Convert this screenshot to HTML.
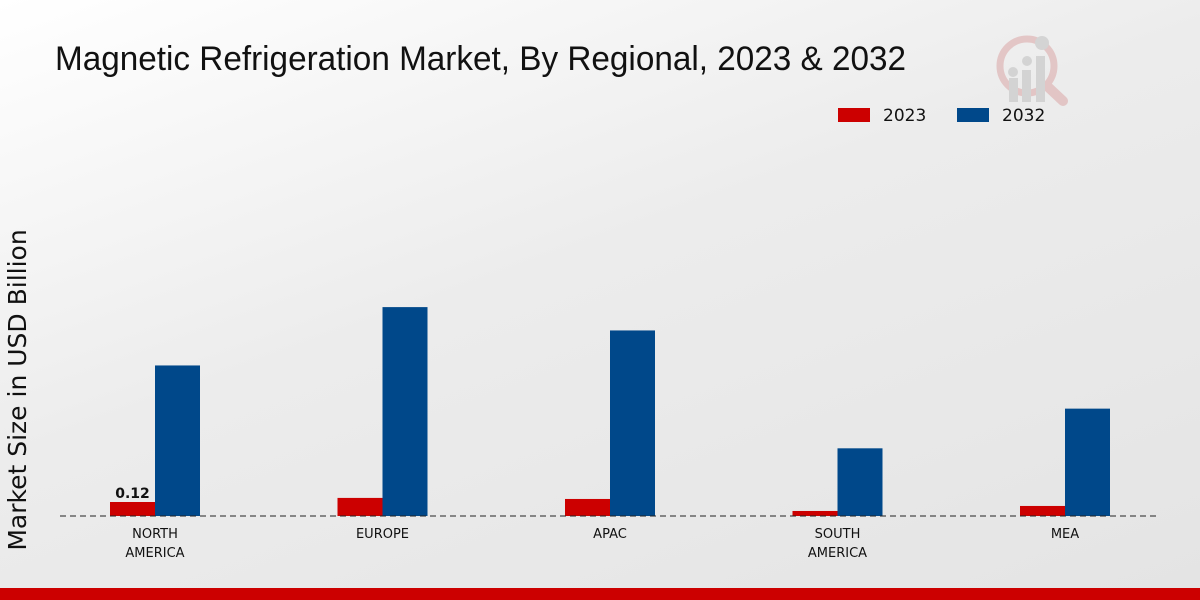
<!DOCTYPE html>
<html><head><meta charset="utf-8"><style>
html,body{margin:0;padding:0;width:1200px;height:600px;overflow:hidden}
body{background:linear-gradient(160deg,#ffffff 0%,#ececec 45%,#e4e4e4 100%);font-family:"DejaVu Sans",sans-serif}
</style></head><body>
<svg id="chart" width="1200" height="600" xmlns="http://www.w3.org/2000/svg" font-family="DejaVu Sans, sans-serif">
<text x="55" y="70" font-size="34" font-family="Liberation Sans, sans-serif" textLength="851" lengthAdjust="spacingAndGlyphs" fill="#111">Magnetic Refrigeration Market, By Regional, 2023 &amp; 2032</text>
<g opacity="0.5">
<circle cx="1027" cy="66" r="27" fill="none" stroke="#d9a0a0" stroke-width="7"/>
<line x1="1047" y1="86" x2="1063" y2="101" stroke="#d9a0a0" stroke-width="10" stroke-linecap="round"/>
<rect x="1009" y="78" width="9" height="24" fill="#bbb"/><rect x="1022" y="70" width="9" height="32" fill="#bbb"/><rect x="1036" y="56" width="9" height="46" fill="#bbb"/>
<circle cx="1013" cy="72" r="5" fill="#bbb"/><circle cx="1027" cy="61" r="5" fill="#bbb"/><circle cx="1042" cy="43" r="7" fill="#bbb"/>
</g>
<g>
<rect x="838" y="108" width="32" height="14" fill="#cc0000"/>
<text x="883" y="121" font-size="17" fill="#111">2023</text>
<rect x="957" y="108" width="32" height="14" fill="#00488a"/>
<text x="1002" y="121" font-size="17" fill="#111">2032</text>
</g>
<text transform="translate(26,390) rotate(-90)" text-anchor="middle" font-size="25" fill="#111">Market Size in USD Billion</text>
<g id="bars"></g>
<line x1="60" y1="516" x2="1160" y2="516" stroke="#222" stroke-width="1" stroke-dasharray="6,4"/>
<g id="labels"></g>
<rect x="0" y="588" width="1200" height="12" fill="#cc0000"/>
</svg>
<script>
const categories=[["NORTH","AMERICA"],["EUROPE"],["APAC"],["SOUTH","AMERICA"],["MEA"]];
const values2023=[0.12,0.155,0.146,0.043,0.086];
const values2032=[1.29,1.79,1.59,0.58,0.92];
const valueLabels=["0.12","","","",""];
const NS="http://www.w3.org/2000/svg";
const baseY=516, pxPerUnit=116.7, x0=155, step=227.5, bw=45;
const y=v=>baseY-v*pxPerUnit;
const xc=i=>x0+i*step;
const bars=document.getElementById('bars'), labels=document.getElementById('labels');
function mk(tag,attrs,parent){const e=document.createElementNS(NS,tag);for(const k in attrs)e.setAttribute(k,attrs[k]);parent.appendChild(e);return e;}
categories.forEach((c,i)=>{
  const r1=mk('rect',{x:xc(i)-bw,y:y(values2023[i]),width:bw,height:baseY-y(values2023[i]),fill:'#cc0000'},bars);
  
  
  const r2=mk('rect',{x:xc(i),y:y(values2032[i]),width:bw,height:baseY-y(values2032[i]),fill:'#00488a'},bars);
  
  
  if(valueLabels[i]){
    const t=mk('text',{x:xc(i)-bw/2,y:y(values2023[i])-4,'text-anchor':'middle','font-size':14,'font-weight':'bold',fill:'#111'},labels);
    t.textContent=valueLabels[i];
    
    
  }
  c.forEach((line,j)=>{
    const t=mk('text',{x:xc(i),y:538+j*19,'text-anchor':'middle','font-size':13,fill:'#111'},labels);
    t.textContent=line;
    
    
  });
});
</script>
</body></html>
